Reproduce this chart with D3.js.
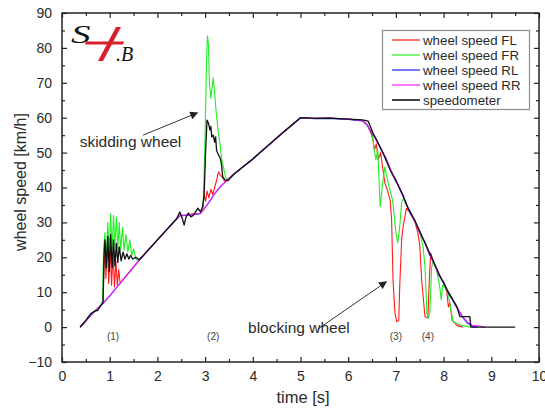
<!DOCTYPE html>
<html>
<head>
<meta charset="utf-8">
<script src="https://cdn.jsdelivr.net/npm/d3@7"></script>
<style>
  body { margin: 0; background: #fff; }
  svg { display: block; font-family: 'Liberation Sans', Arial, sans-serif; }
</style>
</head>
<body>
<svg id="chart" width="545" height="409"></svg>
<script>
// axis ticks
const xTicks = [0, 1, 2, 3, 4, 5, 6, 7, 8, 9, 10];
const yTicks = [-10, 0, 10, 20, 30, 40, 50, 60, 70, 80, 90];

// [time s, speed km/h]
const speedFL = [[0.38,0],[0.5,1.8],[0.6,3.4],[0.7,4.8],[0.8,6],[0.86,7],[0.88,17],[0.9,22.5],[0.92,14],[0.95,24.5],[0.98,12.5],[1.01,23],[1.04,12],[1.07,21.5],[1.1,11.5],[1.13,19],[1.16,12],[1.19,16.5],[1.22,12.5],[1.26,13.2],[1.4,15.6],[1.6,18.9],[1.8,22],[2.0,25],[2.2,28],[2.4,31],[2.47,32],[2.6,32.1],[2.75,32.5],[2.9,32.6],[2.95,34],[2.98,38],[3.01,36],[3.04,39],[3.08,37],[3.12,39.5],[3.16,38],[3.2,40],[3.24,42],[3.28,44.5],[3.32,43.5],[3.36,43],[3.42,41.5],[3.48,42.3],[3.6,43.8],[3.8,46],[4.0,48.2],[4.15,50],[4.4,53],[4.6,55.4],[4.8,57.7],[5.0,60],[5.3,59.8],[5.6,59.9],[6.0,59.6],[6.3,59.2],[6.4,58],[6.48,55.5],[6.52,53.6],[6.55,50.7],[6.59,52.5],[6.63,47.9],[6.68,50],[6.74,44],[6.77,41.3],[6.82,39.3],[6.88,36.4],[6.91,30.7],[6.94,13.5],[6.98,4],[7.02,1.5],[7.06,2],[7.08,11.5],[7.12,25],[7.15,28.7],[7.22,34],[7.3,32.8],[7.4,30.1],[7.46,27],[7.5,23.5],[7.54,13.5],[7.61,3],[7.67,2.6],[7.7,13.5],[7.73,21.2],[7.8,18.1],[7.9,15.1],[8.0,12.6],[8.07,9.8],[8.1,5.8],[8.13,7],[8.18,2],[8.28,0.5],[8.4,0]];

const speedFR = [[0.38,0],[0.5,1.8],[0.6,3.4],[0.7,4.8],[0.8,6],[0.85,7.5],[0.87,22],[0.9,27],[0.93,20],[0.96,30],[0.99,21],[1.02,32.5],[1.05,22],[1.08,32],[1.11,23],[1.14,31.5],[1.17,22.5],[1.2,30],[1.23,22],[1.27,28.5],[1.3,22],[1.34,26.5],[1.38,21.5],[1.42,25],[1.46,20.5],[1.5,22.5],[1.55,19.5],[1.6,19],[1.8,22],[2.0,25],[2.2,28],[2.4,31],[2.47,32],[2.6,32.1],[2.75,32.3],[2.9,32.6],[2.96,35],[3.0,55],[3.03,76],[3.05,83.5],[3.07,81],[3.09,70],[3.12,65.6],[3.15,69],[3.17,71.4],[3.2,67],[3.23,62],[3.27,56.5],[3.31,52.8],[3.35,48],[3.39,45.5],[3.43,43],[3.48,42.3],[3.6,43.8],[3.8,46],[4.0,48.2],[4.15,50],[4.4,53],[4.6,55.4],[4.8,57.7],[5.0,60],[5.3,59.8],[5.6,59.9],[6.0,59.6],[6.3,59.2],[6.4,58],[6.5,55.6],[6.54,51.6],[6.58,48],[6.62,50.7],[6.67,34.5],[6.73,42.1],[6.77,45.9],[6.81,43],[6.86,40.1],[6.93,36.4],[7.0,27],[7.04,24.1],[7.08,28.7],[7.12,35.6],[7.16,37],[7.2,35.5],[7.3,32.8],[7.4,30.1],[7.5,27.3],[7.57,23],[7.61,17.2],[7.65,4],[7.68,2.6],[7.71,4],[7.75,17.2],[7.78,19.2],[7.85,16.5],[7.92,11.5],[7.95,7.8],[7.98,12],[8.05,11],[8.1,9.5],[8.15,5],[8.2,1.5],[8.35,0.6],[8.55,0]];

const speedRL = [[0.38,0],[0.5,1.7],[0.6,3.3],[0.7,4.7],[0.8,5.9],[1.0,8.9],[1.2,12.2],[1.4,15.5],[1.6,18.8],[1.8,21.9],[2.0,24.9],[2.2,27.9],[2.4,30.9],[2.47,31.9],[2.6,32],[2.75,32.2],[2.9,32.5],[3.0,34.2],[3.1,36.1],[3.2,38.2],[3.3,39.9],[3.46,42.1],[3.6,43.7],[3.8,45.9],[4.0,48.1],[4.15,49.9],[4.4,52.9],[4.6,55.3],[4.8,57.6],[5.0,59.9],[5.3,59.7],[5.6,59.8],[6.0,59.5],[6.3,59.1],[6.4,57.8],[6.5,55.5],[6.6,53.4],[6.7,50.6],[6.8,48.2],[6.9,44.6],[7.0,42.3],[7.1,38.9],[7.2,36],[7.3,32.5],[7.4,30.4],[7.5,27],[7.6,24.6],[7.7,20.8],[7.8,18.4],[7.9,14.8],[8.0,12.9],[8.1,9.8],[8.2,7.4],[8.3,5],[8.4,2.8],[8.5,1.1],[8.6,0.2],[8.7,0]];

const speedRR = [[0.38,0],[0.5,1.8],[0.6,3.4],[0.7,4.8],[0.8,6],[1.0,9],[1.2,12.3],[1.4,15.6],[1.6,18.9],[1.8,22],[2.0,25],[2.2,28],[2.4,31],[2.47,32],[2.6,32.1],[2.75,32.3],[2.9,32.6],[3.0,34.3],[3.1,36.2],[3.2,38.3],[3.3,40],[3.46,42.2],[3.6,43.8],[3.8,46],[4.0,48.2],[4.15,50],[4.4,53],[4.6,55.4],[4.8,57.7],[5.0,60],[5.3,59.8],[5.6,59.9],[6.0,59.6],[6.3,59.2],[6.4,58],[6.5,55.7],[6.6,53.2],[6.7,50.9],[6.8,47.9],[6.9,44.9],[7.0,42],[7.1,39.3],[7.2,35.7],[7.3,32.8],[7.4,30.1],[7.5,27.3],[7.6,24.3],[7.7,21.1],[7.8,18.1],[7.9,15.1],[8.0,12.6],[8.1,10.1],[8.2,7.7],[8.3,5.3],[8.4,3.1],[8.5,1.4],[8.6,0.6],[8.75,0.3],[8.87,0]];

const speedometer = [[0.38,0],[0.5,2],[0.6,3.8],[0.68,4.5],[0.75,4.8],[0.8,6],[0.86,7],[0.88,20],[0.9,25],[0.93,17],[0.96,26],[0.99,16],[1.02,26.5],[1.05,17],[1.08,25],[1.11,17.5],[1.14,24],[1.17,18.5],[1.2,23],[1.24,19],[1.28,21.5],[1.32,19.5],[1.36,21],[1.4,19.5],[1.44,20.5],[1.48,19.5],[1.55,20],[1.62,19.3],[1.8,22],[2.0,25],[2.2,28],[2.4,31],[2.47,33],[2.52,31.2],[2.56,29.2],[2.6,31.5],[2.65,32.7],[2.7,31.6],[2.75,32],[2.8,33],[2.85,34.1],[2.9,33],[2.95,34.5],[2.98,38],[3.01,50],[3.04,59.3],[3.07,58.5],[3.1,56.5],[3.12,57.5],[3.14,54.5],[3.17,55],[3.2,53],[3.22,54.5],[3.24,50.7],[3.28,49.3],[3.31,48.7],[3.34,47],[3.37,43],[3.42,42.2],[3.48,42],[3.6,43.8],[3.8,46],[4.0,48.2],[4.15,50],[4.4,53],[4.6,55.4],[4.8,57.7],[5.0,60],[5.3,59.8],[5.6,59.9],[6.0,59.6],[6.3,59.4],[6.42,59],[6.52,55.6],[6.6,53.5],[6.73,49.9],[6.88,45],[7.05,40.5],[7.15,37.8],[7.23,34.8],[7.4,30.5],[7.57,25.3],[7.75,20],[7.92,14.8],[8.1,10],[8.28,5.8],[8.34,3],[8.55,3],[8.57,0],[9.5,0]];

const seriesNames = ['wheel speed FL', 'wheel speed FR', 'wheel speed RL', 'wheel speed RR', 'speedometer'];
const seriesData = [speedFL, speedFR, speedRL, speedRR, speedometer];
const seriesColors = ['#ff1a1a', '#22ee22', '#2020ff', '#ff22ff', '#111111'];

// event markers (1)-(4) at time t
const eventLabels = ['(1)', '(2)', '(3)', '(4)'];
const eventTimes = [1.07, 3.17, 7.0, 7.67];

const svg = d3.select('#chart');
const plotLeft = 62;
const plotRight = 539;
const plotTop = 13;
const plotBottom = 362;
const textColor = '#2a2a2a';

const x = d3.scaleLinear().domain([0, 10]).range([plotLeft, plotRight]);
const y = d3.scaleLinear().domain([-10, 90]).range([plotBottom, plotTop]);

function drawAxes() {
  const minorX = d3.range(0.5, 10, 1);
  const minorY = d3.range(-5, 90, 10);

  const xAxes = [
    [d3.axisBottom(x), `translate(0,${plotBottom})`, true],
    [d3.axisTop(x), `translate(0,${plotTop})`, false],
  ];
  xAxes.forEach(([axis, tr, labels]) => {
    svg.append('g').attr('transform', tr)
      .call(axis.tickValues(xTicks).tickSizeInner(-5).tickSizeOuter(0).tickPadding(9)
        .tickFormat(labels ? d3.format('d') : ''));
    svg.append('g').attr('transform', tr)
      .call(axis.tickValues(minorX).tickSizeInner(-3).tickSizeOuter(0).tickFormat(''));
  });

  const yAxes = [
    [d3.axisLeft(y), `translate(${plotLeft},0)`, true],
    [d3.axisRight(y), `translate(${plotRight},0)`, false],
  ];
  yAxes.forEach(([axis, tr, labels]) => {
    svg.append('g').attr('transform', tr)
      .call(axis.tickValues(yTicks).tickSizeInner(-5).tickSizeOuter(0).tickPadding(10)
        .tickFormat(labels ? d3.format('d') : ''));
    svg.append('g').attr('transform', tr)
      .call(axis.tickValues(minorY).tickSizeInner(-3).tickSizeOuter(0).tickFormat(''));
  });

  svg.selectAll('.domain').remove();
  svg.selectAll('.tick line').attr('stroke', '#222').attr('stroke-width', 1.2);
  svg.selectAll('.tick text')
    .attr('fill', textColor)
    .style('font-size', '14px');

  svg.append('rect')
    .attr('x', plotLeft)
    .attr('y', plotTop)
    .attr('width', plotRight - plotLeft)
    .attr('height', plotBottom - plotTop)
    .attr('fill', 'none')
    .attr('stroke', '#222')
    .attr('stroke-width', 1.5);

  svg.append('text')
    .text('time [s]')
    .attr('x', 303)
    .attr('y', 403)
    .attr('text-anchor', 'middle')
    .attr('fill', textColor)
    .style('font-size', '16.5px');

  svg.append('text')
    .text('wheel speed [km/h]')
    .attr('transform', 'translate(26,182) rotate(-90)')
    .attr('text-anchor', 'middle')
    .attr('fill', textColor)
    .style('font-size', '16px');
}

function drawLines() {
  const line = d3.line()
    .x(d => x(d[0]))
    .y(d => y(d[1]));

  svg.append('g')
    .selectAll('path')
    .data(seriesData)
    .join('path')
    .attr('d', line)
    .attr('fill', 'none')
    .attr('stroke', (d, i) => seriesColors[i])
    .attr('stroke-width', (d, i) => (i === 4 ? 1.3 : 1.1))
    .attr('stroke-linejoin', 'round');
}

function drawLegend() {
  const g = svg.append('g');
  g.append('rect')
    .attr('x', 382.5)
    .attr('y', 30.5)
    .attr('width', 147)
    .attr('height', 79)
    .attr('fill', '#fff')
    .attr('stroke', '#8a8a8a')
    .attr('stroke-width', 1.2);

  const rows = g.selectAll('g.row')
    .data(seriesNames)
    .join('g')
    .classed('row', true)
    .attr('transform', (d, i) => `translate(392,${40 + i * 15})`);

  rows.append('line')
    .attr('x1', 0)
    .attr('x2', 28)
    .attr('stroke', (d, i) => (i === 4 ? '#444' : seriesColors[i]))
    .attr('stroke-opacity', (d, i) => (i === 4 ? 1 : 0.6))
    .attr('stroke-width', 2);

  rows.append('text')
    .text(d => d)
    .attr('x', 31)
    .attr('y', 4.5)
    .attr('fill', textColor)
    .style('font-size', '13.3px');
}

function arrow(x1, y1, x2, y2) {
  svg.append('line')
    .attr('x1', x(x1)).attr('y1', y(y1))
    .attr('x2', x(x2)).attr('y2', y(y2))
    .attr('stroke', '#333')
    .attr('stroke-width', 1)
    .attr('marker-end', 'url(#head)');
}

function drawNotes() {
  svg.append('defs').append('marker')
    .attr('id', 'head')
    .attr('viewBox', '0 0 10 10')
    .attr('refX', 9)
    .attr('refY', 5)
    .attr('markerWidth', 11)
    .attr('markerHeight', 8)
    .attr('orient', 'auto')
    .attr('markerUnits', 'userSpaceOnUse')
    .append('path')
    .attr('d', 'M0,0 L10,5 L0,10 Z')
    .attr('fill', '#222');

  arrow(1.7, 55.0, 2.84, 61.4);
  arrow(5.37, -0.5, 6.8, 13.0);

  svg.append('text')
    .text('skidding wheel')
    .attr('x', x(0.37))
    .attr('y', y(51.6))
    .attr('fill', textColor)
    .style('font-size', '15.5px');

  svg.append('text')
    .text('blocking wheel')
    .attr('x', x(3.9))
    .attr('y', y(-1.6))
    .attr('fill', textColor)
    .style('font-size', '15.5px');

  svg.append('g')
    .selectAll('text')
    .data(eventLabels)
    .join('text')
    .text(d => d)
    .attr('x', (d, i) => x(eventTimes[i]))
    .attr('y', y(-3.8))
    .attr('text-anchor', 'middle')
    .attr('fill', '#444')
    .style('font-size', '10px');
}

function drawLogo() {
  const g = svg.append('g');
  g.append('text')
    .text('S')
    .attr('x', 74)
    .attr('y', 43)
    .attr('fill', '#111')
    .style('font-family', "'Liberation Serif', 'DejaVu Serif', serif")
    .style('font-style', 'italic')
    .style('font-size', '26px')
    .attr('transform', 'translate(-40,0) scale(1.5,1)');
  g.append('path')
    .attr('d', 'M116,27 L121,27 L103,61 L98,61 Z')
    .attr('fill', '#d8202a');
  g.append('path')
    .attr('d', 'M86,41.5 L124,41.5 L123,44.5 L85,44.5 Z')
    .attr('fill', '#d8202a');
  g.append('text')
    .text('.B')
    .attr('x', 116)
    .attr('y', 61)
    .attr('fill', '#111')
    .style('font-family', "'Liberation Serif', 'DejaVu Serif', serif")
    .style('font-style', 'italic')
    .style('font-size', '20px');
}

drawAxes();
drawLines();
drawLegend();
drawNotes();
drawLogo();
</script>
</body>
</html>
